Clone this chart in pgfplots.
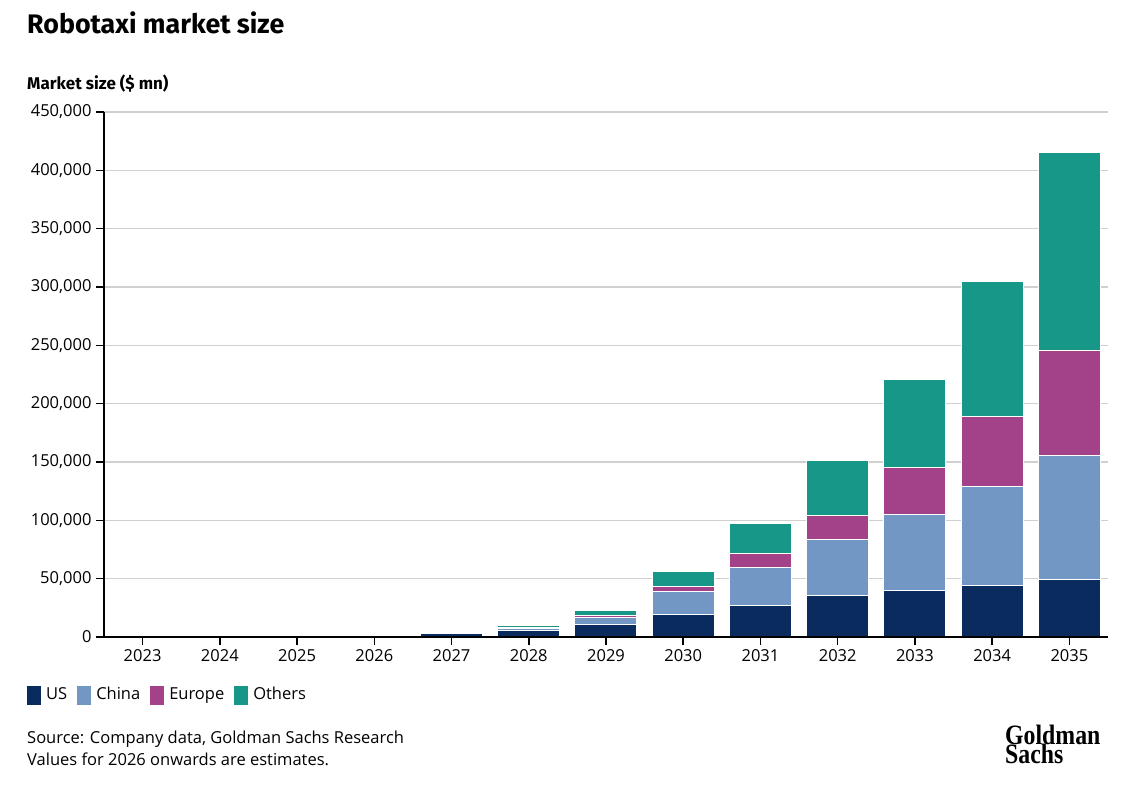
\documentclass[border=0pt]{standalone}
\usepackage{fontspec}
\setmainfont{Open Sans}
\newfontfamily\titlefont{Fira Sans}
\newfontfamily\logofont{Liberation Serif}
\usepackage{pgfplots}
\pgfplotsset{compat=1.18}
\usepackage{pgfplotstable}
\definecolor{cUS}{RGB}{10,43,94}
\definecolor{cChina}{RGB}{115,151,196}
\definecolor{cEurope}{RGB}{164,66,137}
\definecolor{cOthers}{RGB}{22,151,135}
\definecolor{cGrid}{RGB}{208,208,208}

\pgfplotstableread{
x US China Europe Others
0 0 0 0 0
1 0 0 0 0
2 100 0 0 0
3 1100 0 0 0
4 2900 400 0 0
5 5400 2000 800 1300
6 10800 6000 2000 4000
7 18900 19900 4900 12600
8 26600 33400 11700 25400
9 35400 48000 20900 47400
10 39700 65700 40000 75700
11 44300 85100 59400 115700
12 48900 107100 89400 169700
}\datatable

\begin{document}
\begin{tikzpicture}
\path[fill=white] (0pt,0pt) rectangle (1142pt,-794pt);
\node[anchor=base west, inner sep=0pt, font=\titlefont\bfseries\fontsize{26.8}{30}\selectfont] at (27pt,-34pt) {Robotaxi market size};
\node[anchor=base west, inner sep=0pt, font=\titlefont\bfseries\fontsize{17}{20}\selectfont] at (27pt,-90pt) {Market size (\$ mn)};
\begin{axis}[
  name=ax,
  at={(104pt,-637pt)}, anchor=south west,
  scale only axis, width=1004pt, height=525pt,
  xmin=-0.5, xmax=12.5, ymin=0, ymax=450000,
  ybar stacked, bar width=62pt,
  xtick={0,...,12},
  xticklabels={2023,2024,2025,2026,2027,2028,2029,2030,2031,2032,2033,2034,2035},
  ytick={0,50000,...,450000},
  scaled y ticks=false,
  /pgf/number format/.cd, fixed, 1000 sep={,}, assume math mode=true,
  /pgfplots/.cd,
  ymajorgrids, grid style={draw=cGrid, line width=1.6pt},
  axis x line*=bottom, axis y line*=left,
  axis line style={black, line width=1.8pt},
  tick style={black, line width=1.6pt},
  major tick length=8pt, tick align=outside,
  ticklabel style={font=\fontsize{16.5}{19}\selectfont},
  yticklabel style={xshift=-1pt},
  xticklabel style={yshift=-1pt},
  legend style={at={(axis description cs:-0.0767,-0.112)}, anchor=west, draw=none, inner sep=0pt, legend columns=-1,
    font=\fontsize{16.5}{19}\selectfont,
    nodes={inner sep=0pt, text height=12pt, text depth=4pt},
    /tikz/every even column/.append style={column sep=10pt},
    /tikz/every odd column/.append style={column sep=5pt}},
  legend image code/.code={\fill[#1, draw=none] (0pt,-9.5pt) rectangle (14pt,9.5pt);},
]
\addplot[fill=cUS, draw=white, line width=1pt] table[x=x, y=US] {\datatable};
\addplot[fill=cChina, draw=white, line width=1pt] table[x=x, y=China] {\datatable};
\addplot[fill=cEurope, draw=white, line width=1pt] table[x=x, y=Europe] {\datatable};
\addplot[fill=cOthers, draw=white, line width=1pt] table[x=x, y=Others] {\datatable};
\legend{US, China, Europe, Others}
\end{axis}
\draw[black, line width=1.8pt] ([xshift=-0.9pt]ax.south west) -- (ax.south east);
\node[anchor=base west, inner sep=0pt, font=\fontsize{16.5}{19}\selectfont] at (27pt,-743pt) {Source: Company data, Goldman Sachs Research};
\node[anchor=base west, inner sep=0pt, font=\fontsize{16.5}{19}\selectfont] at (27pt,-765pt) {Values for 2026 onwards are estimates.};
\node[anchor=base west, inner sep=0pt, font=\logofont\bfseries\fontsize{28}{28}\selectfont] at (1005pt,-744pt) {\scalebox{0.85}[1]{Goldman}};
\node[anchor=base west, inner sep=0pt, font=\logofont\bfseries\fontsize{28}{28}\selectfont] at (1005pt,-763pt) {\scalebox{0.85}[1]{Sachs}};
\end{tikzpicture}
\end{document}
